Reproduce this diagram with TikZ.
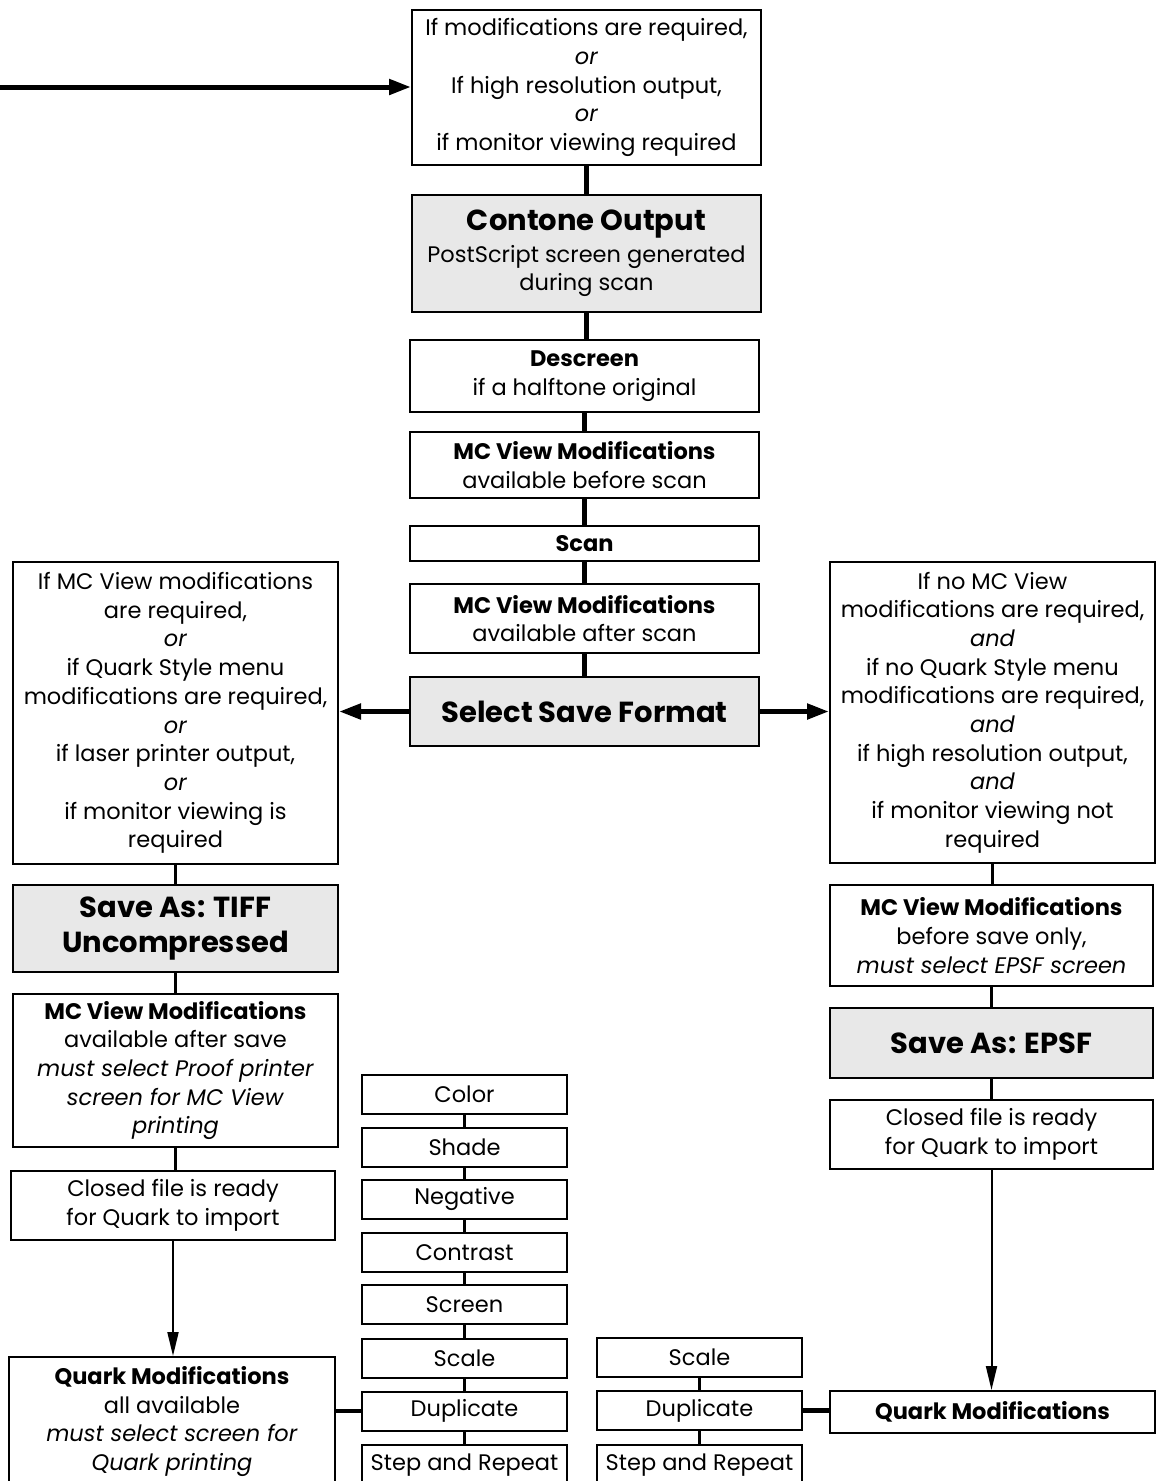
\documentclass[tikz,border=0pt]{standalone}
\usepackage{fontspec}
\setmainfont{Poppins}
\usetikzlibrary{arrows.meta}
\newcommand\nf{\fontsize{22.5}{28.7}\selectfont}
\newcommand\hf{\fontsize{29}{36}\selectfont\bfseries}
\begin{document}
\begin{tikzpicture}[x=1pt,y=-1pt,
  box/.style={draw, line width=2pt, inner sep=0pt, align=center, font=\nf},
  shadebox/.style={box, fill=gray!18},
  mainlink/.style={line width=4.5pt},
  sidelink/.style={line width=3pt},
  stacklink/.style={line width=2.5pt},
  bigarrow/.style={line width=5pt, -{Triangle[length=22pt,width=15pt]}},
  downarrow/.style={line width=2pt, -{Triangle[length=24pt,width=11pt]}}]
\useasboundingbox (0,0) rectangle (1157,1481);
\clip (0,0) rectangle (1157,1481);
% main column
\node[box, minimum width=349, minimum height=155] (top) at (586.5,87.5)
  {If modifications are required,\\ \textit{or}\\ If high resolution output,\\ \textit{or}\\ if monitor viewing required};
\node[shadebox, minimum width=349, minimum height=117] (cont) at (586.5,253.5)
  {{\hf Contone Output}\\[3pt] PostScript screen generated\\ during scan};
\node[box, minimum width=349, minimum height=72] (desc) at (584.5,376)
  {\textbf{Descreen}\\ if a halftone original};
\node[box, minimum width=349, minimum height=66] (mc1) at (584.5,465)
  {\textbf{MC View Modifications}\\ available before scan};
\node[box, minimum width=349, minimum height=35] (scan) at (584.5,543.5)
  {\textbf{Scan}};
\node[box, minimum width=349, minimum height=69] (mc2) at (584.5,618.5)
  {\textbf{MC View Modifications}\\ available after scan};
\node[shadebox, minimum width=349, minimum height=69] (ssf) at (584.5,711.5)
  {\hf Select Save Format};
% left column
\node[box, minimum width=325, minimum height=302] (left) at (175.5,713)
  {If MC View modifications\\ are required,\\ \textit{or}\\ if Quark Style menu\\ modifications are required,\\ \textit{or}\\ if laser printer output,\\ \textit{or}\\ if monitor viewing is\\ required};
\node[shadebox, minimum width=325, minimum height=87] (tiff) at (175.5,928.5)
  {\hf Save As: TIFF\\[6pt] \hf Uncompressed};
\node[box, minimum width=325, minimum height=153] (mc3) at (175.5,1070.5)
  {\textbf{MC View Modifications}\\ available after save\\ \textit{must select Proof printer}\\ \textit{screen for MC View}\\ \textit{printing}};
\node[box, minimum width=324, minimum height=69] (closedL) at (173,1205.5)
  {Closed file is ready\\ for Quark to import};
\node[box, minimum width=326, minimum height=129] (qleft) at (172,1421.5)
  {\textbf{Quark Modifications}\\ all available\\ \textit{must select screen for}\\ \textit{Quark printing}};
% right column
\node[box, minimum width=325, minimum height=301] (right) at (992.5,712.5)
  {If no MC View\\ modifications are required,\\ \textit{and}\\ if no Quark Style menu\\ modifications are required,\\ \textit{and}\\ if high resolution output,\\ \textit{and}\\ if monitor viewing not\\ required};
\node[box, minimum width=323, minimum height=101] (mcR) at (991.5,935.5)
  {\textbf{MC View Modifications}\\ before save only,\\ \textit{must select EPSF screen}};
\node[shadebox, minimum width=323, minimum height=70] (epsf) at (991.5,1043)
  {\hf Save As: EPSF};
\node[box, minimum width=323, minimum height=69] (closedR) at (991.5,1134.5)
  {Closed file is ready\\ for Quark to import};
\node[box, minimum width=325, minimum height=42] (qright) at (992.5,1412)
  {\textbf{Quark Modifications}};
% stack 1
\node[box, minimum width=205, minimum height=39] (s1a) at (464.5,1094.5) {Color};
\node[box, minimum width=205, minimum height=39] (s1b) at (464.5,1147) {Shade};
\node[box, minimum width=205, minimum height=39] (s1c) at (464.5,1199) {Negative};
\node[box, minimum width=205, minimum height=39] (s1d) at (464.5,1252.5) {Contrast};
\node[box, minimum width=205, minimum height=39] (s1e) at (464.5,1304.5) {Screen};
\node[box, minimum width=205, minimum height=39] (s1f) at (464.5,1358) {Scale};
\node[box, minimum width=205, minimum height=39] (s1g) at (464.5,1411) {Duplicate};
\node[box, minimum width=205, minimum height=40] (s1h) at (464.5,1465) {Step and Repeat};
% stack 2
\node[box, minimum width=205, minimum height=39] (s2a) at (699.5,1357.5) {Scale};
\node[box, minimum width=205, minimum height=39] (s2b) at (699.5,1410.5) {Duplicate};
\node[box, minimum width=205, minimum height=40] (s2c) at (699.5,1465) {Step and Repeat};
% connectors
\coordinate (start) at (0,87);
\draw[bigarrow] (start) -- (start -| top.west);
\foreach \a/\b in {top/cont, cont/desc, desc/mc1, mc1/scan, scan/mc2, mc2/ssf}
  \draw[mainlink] (\a.south) -- (\a.south |- \b.north);
\draw[bigarrow] (ssf.west) -- (ssf.west -| left.east);
\draw[bigarrow] (ssf.east) -- (ssf.east -| right.west);
\foreach \a/\b in {left/tiff, tiff/mc3, mc3/closedL, right/mcR, mcR/epsf, epsf/closedR}
  \draw[sidelink] (\a.south) -- (\a.south |- \b.north);
\draw[downarrow] (closedL.south) -- (closedL.south |- qleft.north);
\draw[downarrow] (closedR.south) -- (closedR.south |- qright.north);
\foreach \a/\b in {s1a/s1b, s1b/s1c, s1c/s1d, s1d/s1e, s1e/s1f, s1f/s1g, s1g/s1h, s2a/s2b, s2b/s2c}
  \draw[stacklink] (\a.south) -- (\b.north);
\draw[mainlink] (s1g.west) -- (s1g.west -| qleft.east);
\draw[mainlink] (s2b.east) -- (s2b.east -| qright.west);
\end{tikzpicture}
\end{document}
